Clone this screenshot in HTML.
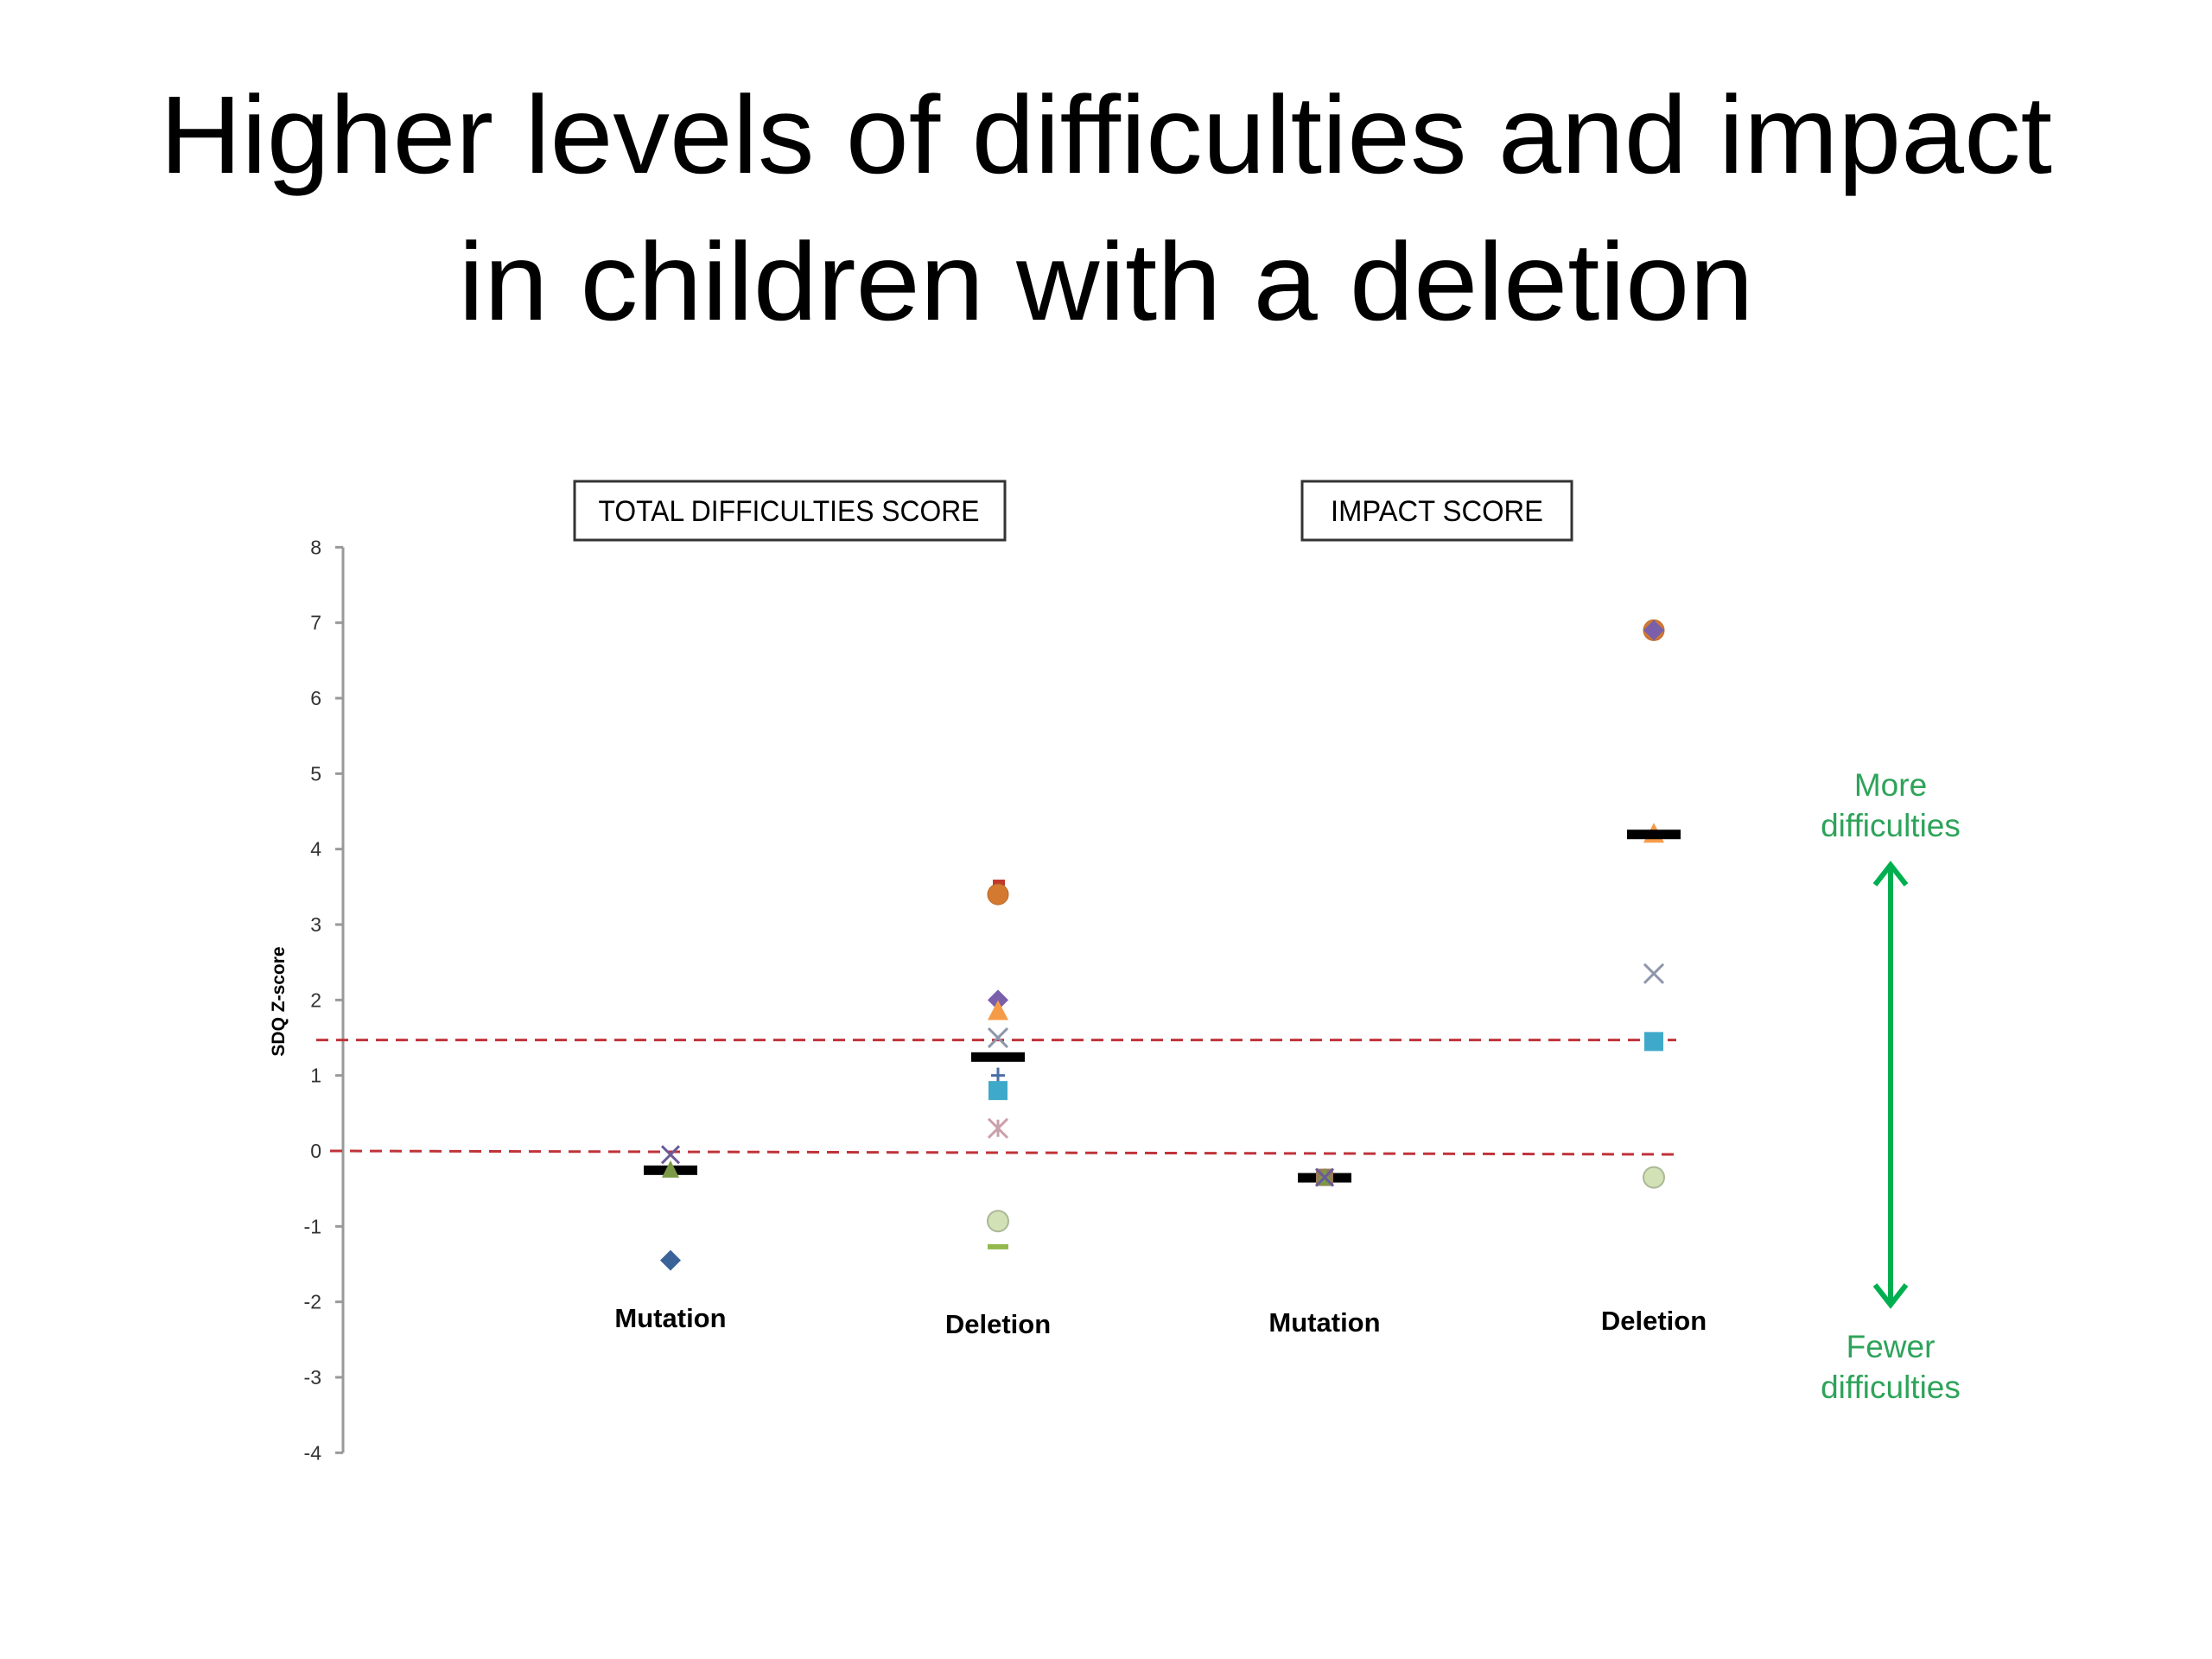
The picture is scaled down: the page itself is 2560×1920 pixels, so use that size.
<!DOCTYPE html>
<html><head><meta charset="utf-8"><style>
html,body{margin:0;padding:0;background:#fff;}
svg{display:block;font-family:"Liberation Sans",sans-serif;}
</style></head><body>
<svg id="s" width="2560" height="1920" viewBox="0 0 2560 1920">
<text x="1280" y="200" font-size="128" text-anchor="middle" textLength="2190" lengthAdjust="spacingAndGlyphs" fill="#000">Higher levels of difficulties and impact</text>
<text x="1280" y="370" font-size="128" text-anchor="middle" textLength="1499" lengthAdjust="spacingAndGlyphs" fill="#000">in children with a deletion</text>
<g><rect x="665" y="557" width="498" height="68" fill="#fff" stroke="#333" stroke-width="3"/>
<text x="913" y="603" font-size="34" text-anchor="middle" textLength="441" lengthAdjust="spacingAndGlyphs">TOTAL DIFFICULTIES SCORE</text></g>
<g><rect x="1507" y="557" width="312" height="68" fill="#fff" stroke="#333" stroke-width="3"/>
<text x="1663" y="603" font-size="34" text-anchor="middle" textLength="246" lengthAdjust="spacingAndGlyphs">IMPACT SCORE</text></g>
<text transform="translate(329,1159) rotate(-90)" font-size="21" font-weight="bold" text-anchor="middle">SDQ Z-score</text>
<g id="plot"></g>
<g fill="#2ea35a" font-size="37" text-anchor="middle">
<text x="2188" y="921">More</text><text x="2188" y="968">difficulties</text>
<text x="2188" y="1571">Fewer</text><text x="2188" y="1618">difficulties</text>
<line x1="2188" y1="1006" x2="2188" y2="1505" stroke="#00b050" stroke-width="6"/>
<polyline points="2170,1024 2188,1001 2206,1024" fill="none" stroke="#00b050" stroke-width="6"/>
<polyline points="2170,1487 2188,1510 2206,1487" fill="none" stroke="#00b050" stroke-width="6"/>
</g>
</svg>
<script>
const yTicks=[8,7,6,5,4,3,2,1,0,-1,-2,-3,-4];
const categories=["Mutation","Deletion","Mutation","Deletion"];
const thresholds=[1.47,0];
const medians=[-0.25,1.25,-0.35,4.2];
const sDiamondBlue=[-1.45,null,null,null];
const sDiamondPurple=[null,2.0,null,6.9];
const sCircleOrange=[null,3.4,null,6.9];
const sDashRed=[null,3.55,null,null];
const sTriangleOrange=[null,1.85,null,4.2];
const sSquareCyan=[null,0.8,null,1.45];
const sSquareBrown=[null,null,-0.35,null];
const sTriangleGreen=[-0.25,null,-0.35,null];
const sCrossGrey=[null,1.5,null,2.35];
const sCrossPurple=[-0.05,null,-0.35,null];
const sPlusBlue=[null,1.0,null,null];
const sStarPink=[null,0.3,null,null];
const sCircleLight=[null,-0.93,null,-0.35];
const sDashGreen=[null,-1.27,null,null];

const NS="http://www.w3.org/2000/svg";
const g=document.getElementById('plot');
const y=v=>1332-v*87.33;
const x=i=>[776,1155,1533,1914][i];
const labelY=[1536,1543,1541,1539];
function mk(t,a,p){const e=document.createElementNS(NS,t);for(const k in a)e.setAttribute(k,a[k]);(p||g).appendChild(e);return e;}
let ax=mk('line',{x1:397,y1:y(8),x2:397,y2:y(-4),stroke:'#999','stroke-width':3});


yTicks.forEach(v=>{
  mk('line',{x1:388,x2:397,y1:y(v),y2:y(v),stroke:'#999','stroke-width':3});
  const t=mk('text',{x:372,y:y(v)+8,'font-size':23,'text-anchor':'end',fill:'#333'});t.textContent=v;
  
  
});
thresholds.forEach((v,i)=>{
  const l=mk('line',{x1:i?382:366,x2:1940,y1:y(v),y2:y(v)+(i?4:0),stroke:'#c0333a','stroke-width':3,'stroke-dasharray':'14 9'});
  
  
});
categories.forEach((c,i)=>{
  const t=mk('text',{x:x(i),y:labelY[i],'font-size':31,'font-weight':'bold','text-anchor':'middle'});t.textContent=c;
  
  
});
function ser(arr,name,draw){arr.forEach((v,i)=>{if(v===null)return;const e=draw(x(i),y(v));
});}
const grp=()=>mk('g',{});
ser(sDashRed,'marker-dash-red',(X,Y)=>mk('rect',{x:X-6,y:Y-4,width:14,height:7,fill:'#c0392b'}));
ser(sCircleOrange,'marker-circle-orange',(X,Y)=>mk('circle',{cx:X,cy:Y,r:12,fill:'#d47a30',stroke:'#b76a2a'}));
ser(sDiamondPurple,'marker-diamond-purple',(X,Y)=>mk('polygon',{points:`${X},${Y-12} ${X+12},${Y} ${X},${Y+12} ${X-12},${Y}`,fill:'#7a5fab'}));
ser(sTriangleOrange,'marker-triangle-orange',(X,Y)=>mk('polygon',{points:`${X},${Y-13} ${X+12},${Y+10} ${X-12},${Y+10}`,fill:'#f59b48'}));
ser(sCrossGrey,'marker-cross-grey',(X,Y)=>{const e=grp();mk('path',{d:`M${X-11} ${Y-11}L${X+11} ${Y+11}M${X+11} ${Y-11}L${X-11} ${Y+11}`,stroke:'#8f96ab','stroke-width':3},e);return e;});
ser(medians,'median-bar',(X,Y)=>mk('rect',{x:X-31,y:Y-5,width:62,height:11,fill:'#000'}));
ser(sSquareBrown,'marker-square-brown',(X,Y)=>mk('rect',{x:X-10,y:Y-10,width:20,height:20,fill:'#9a7a5a'}));
ser(sTriangleGreen,'marker-triangle-green',(X,Y)=>mk('polygon',{points:`${X},${Y-11} ${X+10},${Y+9} ${X-10},${Y+9}`,fill:'#7c9a45'}));
ser(sCrossPurple,'marker-cross-purple',(X,Y)=>{const e=grp();mk('path',{d:`M${X-10} ${Y-10}L${X+10} ${Y+10}M${X+10} ${Y-10}L${X-10} ${Y+10}`,stroke:'#6a5a9a','stroke-width':3},e);return e;});
ser(sPlusBlue,'marker-plus-blue',(X,Y)=>{const e=grp();mk('path',{d:`M${X-8} ${Y}L${X+8} ${Y}M${X} ${Y-9}L${X} ${Y+9}`,stroke:'#4a6fa5','stroke-width':3},e);return e;});
ser(sSquareCyan,'marker-square-cyan',(X,Y)=>mk('rect',{x:X-11,y:Y-11,width:22,height:22,fill:'#3fa9c9'}));
ser(sStarPink,'marker-asterisk-pink',(X,Y)=>{const e=grp();mk('path',{d:`M${X-11} ${Y-11}L${X+11} ${Y+11}M${X+11} ${Y-11}L${X-11} ${Y+11}M${X} ${Y-10}L${X} ${Y+10}`,stroke:'#c9a0ab','stroke-width':3},e);return e;});
ser(sCircleLight,'marker-circle-lightgreen',(X,Y)=>mk('circle',{cx:X,cy:Y,r:12,fill:'#d3e2b6',stroke:'#aab896','stroke-width':2}));
ser(sDashGreen,'marker-dash-green',(X,Y)=>mk('rect',{x:X-12,y:Y-3,width:24,height:6,fill:'#93b84d'}));
ser(sDiamondBlue,'marker-diamond-blue',(X,Y)=>mk('polygon',{points:`${X},${Y-12} ${X+12},${Y} ${X},${Y+12} ${X-12},${Y}`,fill:'#3a6399'}));
</script>
</body></html>
